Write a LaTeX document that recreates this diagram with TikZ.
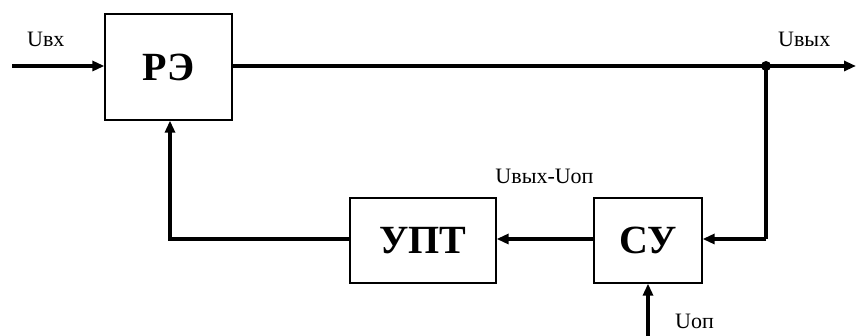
\documentclass[tikz,border=0pt]{standalone}
\usepackage{fontspec}
\setmainfont{Liberation Serif}
\usetikzlibrary{arrows.meta}
\begin{document}
\begin{tikzpicture}[x=1pt,y=-1pt,
  blk/.style={draw,line width=1.3pt,inner sep=0pt,font=\fontsize{40}{42}\selectfont\bfseries},
  conn/.style={line width=3.3pt,-{Triangle[length=12pt,width=10pt]}},
  wire/.style={line width=3.3pt},
  lbl/.style={inner sep=0pt,font=\fontsize{22}{24}\selectfont}]
\useasboundingbox (0,0) rectangle (856,336);
\node[blk,minimum width=127pt,minimum height=106pt] (re) at (168.5,67) {РЭ};
\node[blk,minimum width=146pt,minimum height=85pt] (upt) at (423,240.5) {УПТ};
\node[blk,minimum width=108pt,minimum height=85pt] (su) at (648,240.5) {СУ};
\coordinate (in) at (12,66);
\coordinate (out) at (856,66);
\coordinate (j) at (766,66);
\coordinate (jb) at (766,239);
\coordinate (fb) at (170,239);
\coordinate (op) at (648,336);
\draw[conn] (in) -- (re.west |- in);
\draw[conn] (re.east |- out) -- (out);
\fill (j) circle (5pt);
\draw[wire] (j) -- (jb);
\draw[conn] (jb) -- (su.east |- jb);
\draw[conn] (su.west |- jb) -- (upt.east |- jb);
\draw[conn] (upt.west |- fb) -- (fb) -- (fb |- re.south);
\draw[conn] (op) -- (su.south);
\node[lbl,anchor=base west] (uin) at (27,47) {Uвх};
\node[lbl,anchor=base west] (uout) at (778,47) {Uвых};
\node[lbl,anchor=base] (udiff) at (544.5,184) {Uвых-Uоп};
\node[lbl,anchor=base west] (uop) at (675,328) {Uоп};
\end{tikzpicture}
\end{document}
